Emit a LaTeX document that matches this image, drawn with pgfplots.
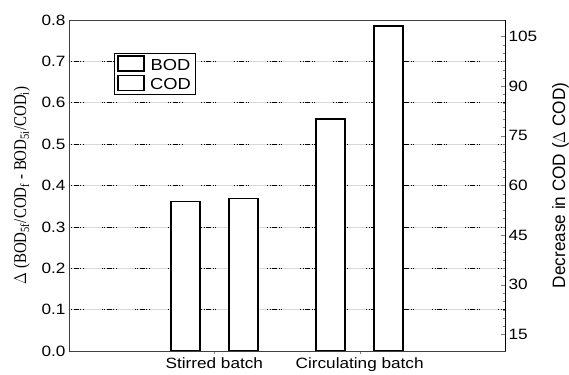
\documentclass[border=0pt]{standalone}
\usepackage{fontspec}
\setmainfont{Liberation Sans}[FakeStretch=1.15]
\newfontfamily\serif{Liberation Serif}
\usepackage{pgfplots}
\pgfplotsset{compat=1.18}
\begin{document}
\begin{tikzpicture}
\useasboundingbox (-69bp,-24bp) rectangle (500bp,351bp);
\begin{axis}[
  at={(0,0)}, anchor=south west,
  scale only axis, width=436bp, height=331bp,
  xmin=0, xmax=3, ymin=0, ymax=0.8,
  xtick={1,2}, xticklabels={Stirred batch, Circulating batch},
  xtick pos=bottom, major tick length=3bp,
  ytick={0,0.1,0.2,0.3,0.4,0.5,0.6,0.7,0.8},
  ytick pos=left, ytick style={draw=none},
  yticklabel style={/pgf/number format/.cd, fixed, fixed zerofill, precision=1, assume math mode=true},
  ticklabel style={font=\fontsize{15}{17}\selectfont},
  ymajorgrids,
  major grid style={gray!30, line width=0.5bp,
    postaction={draw, black, line width=0.5bp, dash pattern=on 1bp off 1.5bp on 1bp off 1.5bp on 5bp off 1.5bp on 1bp off 1.5bp on 1bp off 18bp}},
  axis line style={black!75, line width=0.8bp},
  ylabel={\scalebox{1}[1.2]{\serif\fontsize{15}{17}\selectfont $\Delta$ (BOD\textsubscript{5f}/COD\textsubscript{f} - BOD\textsubscript{5i}/COD\textsubscript{i})}},
  ylabel style={at={(axis description cs:-0.108,0.5)}, anchor=center},
  ybar, bar width=0.2,
  legend style={at={(axis description cs:0.103,0.9)}, anchor=north west, draw=black, line width=0.6bp,
    font=\fontsize{16}{18}\selectfont, inner xsep=3bp, inner ysep=2bp, row sep=1bp},
  legend image code/.code={\draw[#1, line width=1.7bp] (0bp,-6bp) rectangle (26bp,9bp); \path[draw=none, fill=none] (0bp,0bp) -- (30bp,0bp);},
]
\addplot[fill=white, draw=black, line width=1.6bp, bar shift=-0.2] coordinates {(1,0.361) (2,0.561)};
\addplot[fill=white, draw=black, line width=1.6bp, bar shift=0.2] coordinates {(1,0.369) (2,0.785)};
\legend{BOD, COD}
\end{axis}
\begin{axis}[
  at={(0,0)}, anchor=south west,
  scale only axis, width=436bp, height=331bp,
  xmin=0, xmax=3, ymin=10, ymax=110,
  axis x line=none, axis y line*=right,
  ytick={15,30,45,60,75,90,105}, minor y tick num=5,
  major tick length=4bp, minor tick length=2.5bp,
  yticklabel style={font=\fontsize{15}{17}\selectfont, /pgf/number format/assume math mode=true},
  axis line style={black, line width=0.8bp},
  ylabel={\scalebox{1}[1.2]{\fontsize{15}{17}\selectfont Decrease in COD ($\Delta$ COD)}},
  ylabel style={at={(axis description cs:1.127,0.5)}, anchor=center},
]
\addplot[draw=none, forget plot] coordinates {(0,50)};
\end{axis}
\end{tikzpicture}
\end{document}
